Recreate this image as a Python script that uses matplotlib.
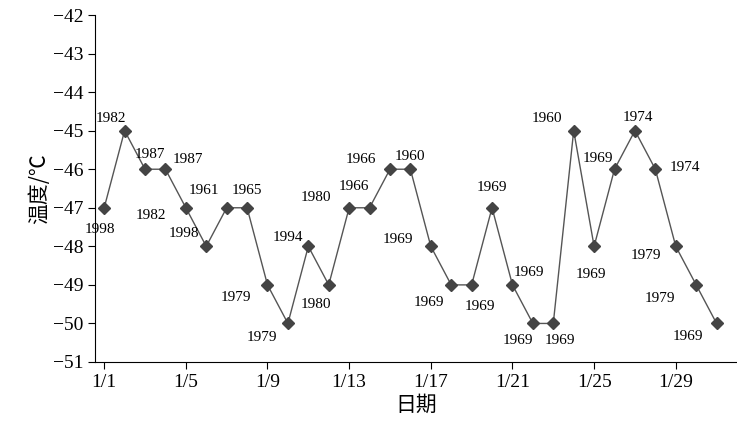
import matplotlib
matplotlib.use("Agg")
import matplotlib.pyplot as plt

days = list(range(1, 32))
temps = [-47, -45, -46, -46, -47, -48, -47, -47, -49, -50, -48, -49, -47, -47, -46, -46,
         -48, -49, -49, -47, -49, -50, -50, -45, -48, -46, -45, -46, -48, -49, -50]
years = ["1998", "1982", "1987", "1987", "1982", "1998", "1961", "1965", "1979", "1979",
         "1994", "1980", "1980", "1966", "1966", "1960", "1969", "1969", "1969", "1969",
         "1969", "1969", "1969", "1960", "1969", "1969", "1974", "1974", "1979", "1979", "1969"]
# label offsets in pixels (dx, dy) relative to point
offs = [(-4, -22), (-14, 12), (5, 15), (22, 10), (-35, -8), (-22, 13), (-23, 17), (0, 17),
        (-32, -13), (-26, -14), (-20, 9), (-13, -20), (-33, 10), (-16, 21), (-29, 10), (0, 13),
        (-33, 7), (-22, -18), (8, -22), (0, 20), (16, 12), (-15, -17), (7, -17), (-27, 12),
        (-3, -28), (-17, 11), (3, 13), (30, 2), (-30, -9), (-36, -14), (-29, -13)]
xticks = [1, 5, 9, 13, 17, 21, 25, 29]
xticklabels = ["1/1", "1/5", "1/9", "1/13", "1/17", "1/21", "1/25", "1/29"]
yticks = list(range(-51, -41))

plt.rcParams['font.family'] = ['Liberation Serif', 'Noto Sans CJK SC']
fig = plt.figure(figsize=(7.37, 4.43), dpi=100)
ax = fig.add_axes([95/737, 81/443, 642/737, 347/443])
ax.plot(days, temps, color='#555555', lw=1.0, marker='D', ms=6.5,
        markerfacecolor='#444444', markeredgecolor='#444444')
for d, t, y, (dx, dy) in zip(days, temps, years, offs):
    ax.annotate(y, (d, t), xytext=(dx * 0.72, dy * 0.72), textcoords='offset points',
                ha='center', va='center', fontsize=11)
ax.set_xlim(0.55, 32.0)
ax.set_ylim(-51, -42)
ax.set_xticks(xticks)
ax.set_xticklabels(xticklabels, fontsize=14)
ax.set_yticks(yticks)
ax.set_yticklabels([f"\u2212{abs(v)}" for v in yticks], fontsize=14)
ax.spines['top'].set_visible(False)
ax.spines['right'].set_visible(False)
ax.tick_params(direction='out', length=5)
ax.set_xlabel("日期", fontsize=15, family=['Noto Sans CJK SC'], labelpad=2)
ax.set_ylabel("温度/℃", fontsize=15, family=['Noto Sans CJK SC'], labelpad=2)
fig.savefig("out.png", dpi=100)
